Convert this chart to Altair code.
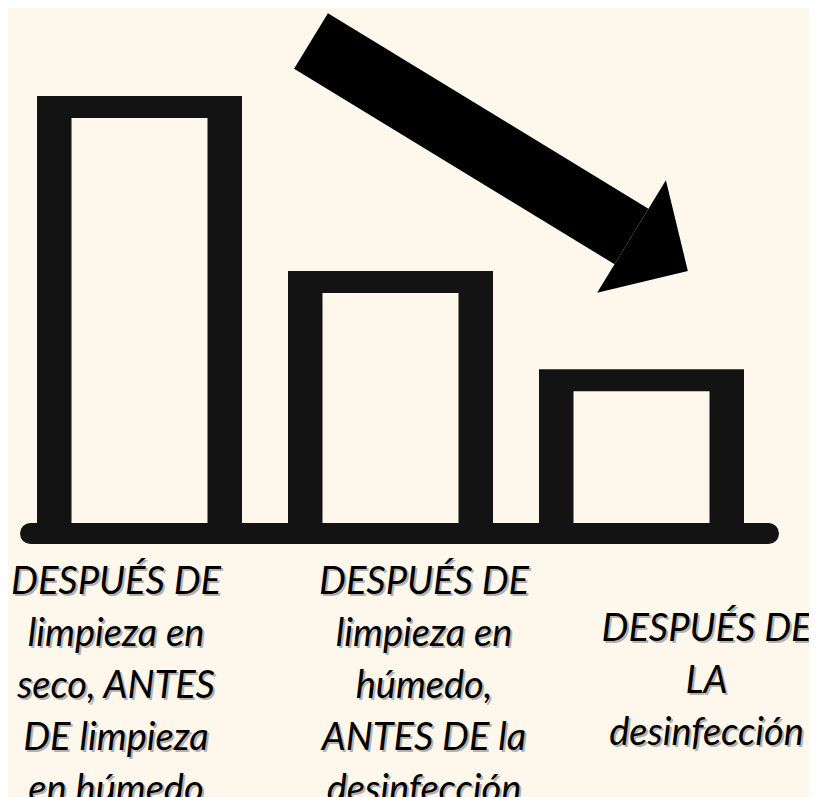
import altair as alt
import pandas as pd

# ---- data ----
categories = [
    "DESPUÉS DE limpieza en seco, ANTES DE limpieza en húmedo",
    "DESPUÉS DE limpieza en húmedo, ANTES DE la desinfección",
    "DESPUÉS DE LA desinfección",
]
values = [100, 59, 36]
label_lines = [
    ["DESPUÉS DE", "limpieza en", "seco, ANTES", "DE limpieza", "en húmedo"],
    ["DESPUÉS DE", "limpieza en", "húmedo,", "ANTES DE la", "desinfección"],
    ["DESPUÉS DE", "LA", "desinfección"],
]

df = pd.DataFrame({
    "cat": categories,
    "value": values,
    "label": ["\n".join(l) for l in label_lines],
})

BG = "#FEF7EB"
INK = "#131313"

x = alt.X("cat:N", axis=None,
          scale=alt.Scale(domain=categories, range=[6, 759], paddingInner=0, paddingOuter=0))
y = alt.Y("value:Q", axis=None, scale=alt.Scale(domain=[0, 100], range=[515, 88]))

base = alt.Chart(df)

outer = base.mark_bar(size=205, color=INK).encode(x=x, y=y)
inner = base.mark_bar(size=136, color=BG, yOffset=22).encode(x=x, y=y)

deco = alt.Chart(pd.DataFrame({"k": [0]}))
baseline = deco.mark_rule(strokeWidth=21, strokeCap="round", color=INK).encode(
    x=alt.value(22.5), x2=alt.value(760.5), y=alt.value(525.5))

shaft = deco.mark_rule(strokeWidth=65, strokeCap="butt", color="#000000").encode(
    x=alt.value(303), y=alt.value(33), x2=alt.value(623.5), y2=alt.value(228.5))
head = deco.mark_point(shape="M 0 -1 L 1 0 L 0 1 Z", size=17424, angle=31.4,
                       filled=True, color="#000000", opacity=1, strokeWidth=0).encode(
    x=alt.value(623.5), y=alt.value(228.5))

layout = [(-23.5, 586), (33.5, 586), (65, 633)]
texts = []
for cat, (dx, ty) in zip(categories, layout):
    t = base.transform_filter(alt.datum.cat == cat)
    common = dict(font="Lato", fontStyle="italic", fontSize=38, lineHeight=52,
                  lineBreak="\n", align="center", baseline="alphabetic")
    shadow = t.mark_text(dx=dx + 2, dy=2, color="#6e6e6e", opacity=0.5, **common).encode(
        x=x, y=alt.value(ty), text="label:N")
    main = t.mark_text(dx=dx, color="#000000", **common).encode(
        x=x, y=alt.value(ty), text="label:N")
    texts += [shadow, main]

chart = alt.layer(outer, inner, baseline, shaft, head, *texts).properties(
    width=801, height=789, autosize="none", padding=0, background=BG
).configure_view(stroke=None)

chart.save("out.html", embed_options={"renderer": "svg", "actions": False})
